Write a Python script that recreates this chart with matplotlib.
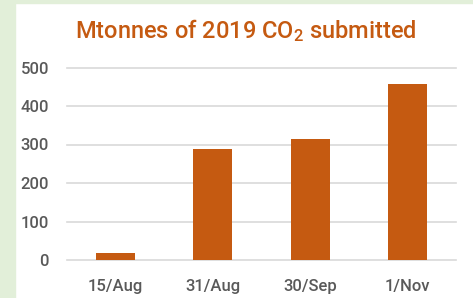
import matplotlib
matplotlib.use("Agg")
import matplotlib.pyplot as plt
from matplotlib.patches import Rectangle

categories = ["15/Aug", "31/Aug", "30/Sep", "1/Nov"]
values = [17, 288, 314, 457]
yticks = [0, 100, 200, 300, 400, 500]

plt.rcParams['font.family'] = ['Roboto', 'DejaVu Sans']
plt.rcParams['mathtext.fontset'] = 'custom'
plt.rcParams['mathtext.rm'] = 'Roboto:medium'
plt.rcParams['mathtext.default'] = 'rm'

orange = "#c55a11"
grey = "#595959"

fig = plt.figure(figsize=(4.73, 2.98), dpi=100)
fig.patch.set_facecolor("white")
fig.patches.append(Rectangle((0, 0), 15/473, 1, transform=fig.transFigure, color="#e2efd9", zorder=0))
fig.patches.append(Rectangle((0, 1-3/298), 1, 3/298, transform=fig.transFigure, color="#e2efd9", zorder=0))

ax = fig.add_axes([67/473, 1-260/298, (456-67)/473, (260-67.5)/298])
x = range(len(categories))
ax.bar(x, values, width=0.4, color=orange, zorder=3)
ax.set_xlim(-0.5, 3.5)
ax.set_ylim(0, 500)
ax.set_yticks(yticks)
ax.set_xticks(list(x))
ax.set_xticklabels(categories)
ax.grid(axis='y', color="#d9d9d9", linewidth=1.2, zorder=0)
for gl in ax.get_ygridlines():
    gl.set_clip_on(False)
for s in ax.spines.values():
    s.set_visible(False)
ax.tick_params(axis='both', length=0, labelsize=12, colors=grey, labelcolor=grey)
ax.tick_params(axis='y', pad=13)
ax.tick_params(axis='x', pad=14)
for lab in ax.get_xticklabels() + ax.get_yticklabels():
    lab.set_fontweight('medium')

fig.text(246/473, 1-31/298, "Mtonnes of 2019 CO$_2$ submitted", ha='center', va='center',
         fontsize=17, color=orange, fontweight='medium')

fig.savefig("out.png", dpi=100)
